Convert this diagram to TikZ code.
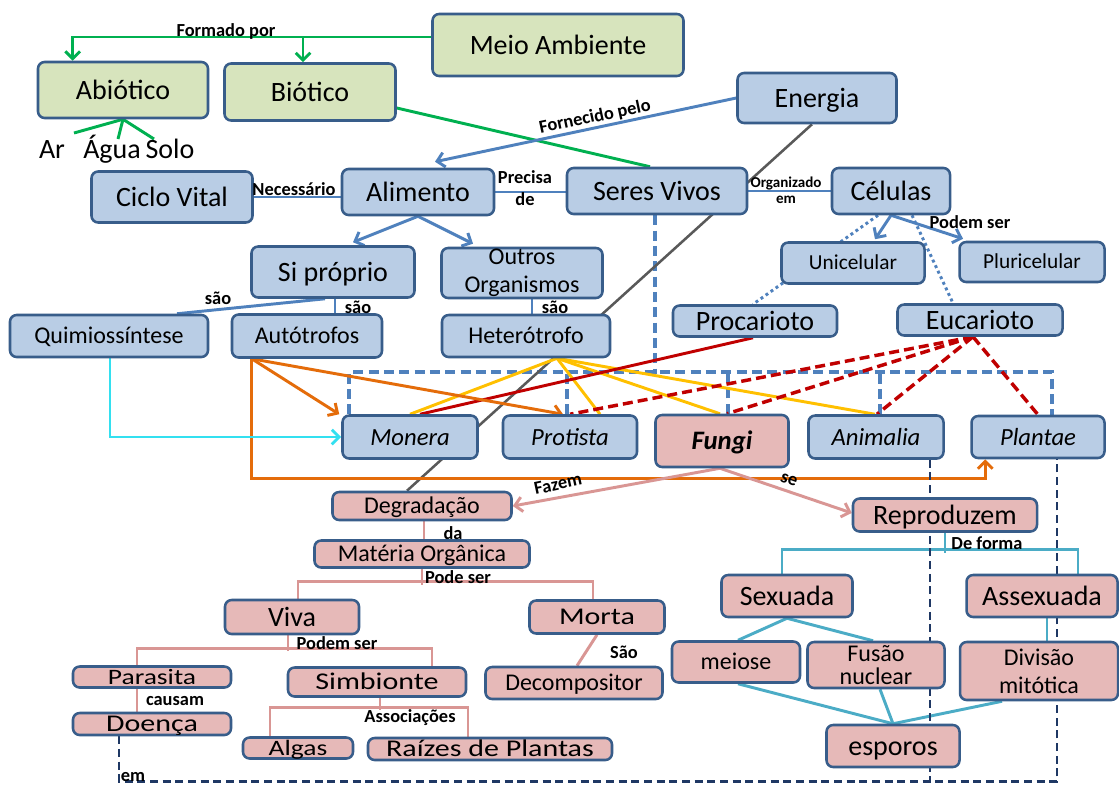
\documentclass[tikz,border=0pt]{standalone}
\usepackage{fontspec}
\setmainfont{Carlito}
\newfontfamily\wideF[FakeStretch=1.25]{Carlito}
\usetikzlibrary{arrows.meta,calc,backgrounds}
\definecolor{gfill}{HTML}{D7E4BD}
\definecolor{bfill}{HTML}{B9CDE5}
\definecolor{pfill}{HTML}{E6B9B8}
\definecolor{bord}{HTML}{385D8A}
\definecolor{cgreen}{HTML}{00B050}
\definecolor{cblue}{HTML}{4F81BD}
\definecolor{cred}{HTML}{C00000}
\definecolor{cgold}{HTML}{FFC000}
\definecolor{corange}{HTML}{E46C0A}
\definecolor{ccyan}{HTML}{33E0F0}
\definecolor{cpink}{HTML}{D99694}
\definecolor{cteal}{HTML}{4BACC6}
\definecolor{cgray}{HTML}{595959}
\definecolor{cnavy}{HTML}{1F3864}
\begin{document}
\begin{tikzpicture}[x=0.75pt,y=-0.75pt,
  box/.style={draw=bord, line width=1.9pt, rounded corners=5pt, inner sep=0pt, align=center},
  gbox/.style={box, fill=gfill},
  bbox/.style={box, fill=bfill},
  pbox/.style={box, fill=pfill},
  wh/.style 2 args={minimum width=#1*0.75pt, minimum height=#2*0.75pt},
  fA/.style={font=\fontsize{21}{23}\selectfont, text height=13.5pt, text depth=0pt},
  fB/.style={font=\fontsize{18}{21}\selectfont, text height=11.6pt, text depth=0pt},
  fC/.style={font=\fontsize{16}{18}\selectfont, text height=10.3pt, text depth=0pt},
  fI/.style={font=\itshape\fontsize{18.5}{20}\selectfont, text height=12pt, text depth=0pt},
  fF/.style={font=\bfseries\itshape\fontsize{20}{22}\selectfont, text height=13pt, text depth=0pt},
  fW/.style={font=\wideF\fontsize{18}{20}\selectfont, text height=11.6pt, text depth=0pt},
  fWs/.style={font=\wideF\fontsize{16.5}{18}\selectfont, text height=10.6pt, text depth=0pt},
  fM/.style={font=\fontsize{18}{21}\selectfont},
  fN/.style={font=\fontsize{18}{17.5}\selectfont},
  txt/.style={font=\fontsize{21}{23}\selectfont, inner sep=0pt},
  lbl/.style={font=\bfseries\fontsize{13.8}{15}\selectfont, inner sep=0pt},
  lbls/.style={font=\bfseries\fontsize{11.3}{12}\selectfont, inner sep=0pt},
  conn/.style={line width=2.2pt},
  arr/.style={-{Straight Barb[length=5.5pt,width=11pt]}},
  gline/.style={conn, draw=cgreen},
  bline/.style={conn, draw=cblue},
  bdot/.style={conn, draw=cblue, dash pattern=on 2.2pt off 2.4pt},
  bdash/.style={line width=3pt, draw=cblue, dash pattern=on 7.5pt off 4pt},
  yline/.style={conn, draw=cgold},
  rline/.style={conn, draw=cred},
  rdash/.style={line width=2.6pt, draw=cred, dash pattern=on 7.5pt off 3.8pt},
  oline/.style={conn, draw=corange},
  cline/.style={conn, draw=ccyan},
  grayline/.style={line width=1.9pt, draw=cgray},
  pline/.style={conn, draw=cpink},
  tline/.style={conn, draw=cteal},
  ndash/.style={line width=2.2pt, draw=cnavy, dash pattern=on 6pt off 3.5pt}
]
\useasboundingbox (0,0) rectangle (1119,789);

% ---------- nodes ----------
\node[gbox,wh={251}{62},fA] (meio) at (558,45) {Meio Ambiente};
\node[gbox,wh={170}{56},fA] (abio) at (123,90) {Abiótico};
\node[gbox,wh={171}{57},fA] (bio) at (310,92) {Biótico};
\node[txt, anchor=base] (ar) at (52,158) {Ar};
\node[txt, anchor=base] (agua) at (112,158) {Água};
\node[txt, anchor=base] (solo) at (170,158) {Solo};
\node[bbox,wh={159}{50},fA] (energia) at (817,98) {Energia};
\node[bbox,wh={161}{51},fA] (ciclo) at (172,197) {Ciclo Vital};
\node[bbox,wh={152}{46},fA] (alim) at (418,192) {Alimento};
\node[bbox,wh={180}{46},fA] (seres) at (657,191) {Seres Vivos};
\node[bbox,wh={118}{46},fA] (celulas) at (891,191) {Células};
\node[bbox,wh={163}{51},fA] (sip) at (333,272) {Si próprio};
\node[bbox,wh={161}{50},fM] (outros) at (522,273) {Outros\\Organismos};
\node[bbox,wh={198}{42},fB] (quimio) at (109,336) {Quimiossíntese};
\node[bbox,wh={150}{43},fB] (auto) at (307,336) {Autótrofos};
\node[bbox,wh={168}{42},fB] (het) at (526,336) {Heterótrofo};
\node[bbox,wh={143}{41},fC] (uni) at (853,263) {Unicelular};
\node[bbox,wh={145}{40},fC] (pluri) at (1032,262) {Pluricelular};
\node[bbox,wh={164}{31},fA] (proc) at (755,321) {Procarioto};
\node[bbox,wh={165}{31},fA] (euc) at (980,320) {Eucarioto};
\node[bbox,wh={135}{43},fI] (monera) at (410,437) {Monera};
\node[bbox,wh={134}{43},fI] (protista) at (570,437) {Protista};
\node[pbox,wh={133}{52},fF] (fungi) at (722,441) {Fungi};
\node[bbox,wh={135}{43},fI] (animalia) at (876,437) {Animalia};
\node[bbox,wh={133}{42},fI] (plantae) at (1038,437) {Plantae};
\node[pbox,wh={179}{28},fB] (degr) at (422,506) {Degradação};
\node[pbox,wh={215}{27},fB] (mat) at (422,554) {Matéria Orgânica};
\node[pbox,wh={134}{34},fA] (viva) at (292,617) {Viva};
\node[pbox,wh={135}{33},fW] (morta) at (597,617) {Morta};
\node[pbox,wh={158}{21},fWs] (parasita) at (152,677) {Parasita};
\node[pbox,wh={158}{22},fW] (doenca) at (152,724) {Doença};
\node[pbox,wh={178}{29},fW] (simb) at (377,682) {Simbionte};
\node[pbox,wh={177}{32},fB] (decomp) at (574,683) {Decompositor};
\node[pbox,wh={110}{21},fWs] (algas) at (298,748) {Algas};
\node[pbox,wh={244}{22},fW] (raizes) at (490,749) {Raízes de Plantas};
\node[pbox,wh={184}{33},fA] (repro) at (945,515) {Reproduzem};
\node[pbox,wh={131}{42},fA] (sexu) at (787,596) {Sexuada};
\node[pbox,wh={151}{42},fA] (assexu) at (1042,596) {Assexuada};
\node[pbox,wh={128}{41},fB] (meiose) at (736,662) {meiose};
\node[pbox,wh={137}{46},fN] (fusao) at (876,665) {Fusão\\nuclear};
\node[pbox,wh={158}{58},fM] (divisao) at (1039,671) {Divisão\\mitótica};
\node[pbox,wh={133}{42},fA] (esporos) at (893,746) {esporos};

\coordinate (arT) at (74,133);
\coordinate (aguaT) at (118,139);
\coordinate (soloT) at (154,139);

% ---------- connectors ----------
\begin{scope}[on background layer]
\fill[white] (0,0) rectangle (1119,789);
% green
\draw[gline,arr] ($(meio.west)+(0,-8)$) -| ($(abio.north west)+(36,0)$);
\draw[gline,arr] ($(bio.north)+(-7,-26)$) -- ($(bio.north)+(-7,0)$);
\draw[gline] (abio.south) -- (arT);
\draw[gline] (abio.south) -- (aguaT);
\draw[gline] (abio.south) -- (soloT);
\draw[gline] ($(bio.east)+(0,16)$) -- ($(seres.north)+(-7,0)$);
% blue
\draw[bline,arr] (energia.west) -- ($(alim.north)+(17,-6)$);
\draw[bline] (ciclo.east) -- (ciclo.east -| alim.west);
\draw[bline] (alim.east) -- (alim.east -| seres.west);
\draw[bline] (seres.east) -- (seres.east -| celulas.west);
\draw[bline,arr] (alim.south) -- ($(sip.north)+(20,-3)$);
\draw[bline,arr] (alim.south) -- ($(outros.north)+(-49,-3)$);
\draw[bline] ($(sip.south)+(-8,0)$) -- ($(quimio.north)+(68,0)$);
\draw[bline] ($(sip.south)+(2,0)$) -- ($(auto.north)+(28,0)$);
\draw[bline] ($(outros.south)+(10,0)$) -- ($(het.north)+(6,0)$);
\draw[bline,arr] (celulas.south) -- ($(uni.north)+(22,-2)$);
\draw[bline,arr] (celulas.south) -- ($(pluri.north)+(-69,-2)$);
\draw[bdot] ($(celulas.south)+(-13,0)$) -- ($(proc.north)+(-2,0)$);
\draw[bdot] ($(celulas.south)+(21,0)$) -- ($(euc.north)+(-27,0)$);
% dashed frame over the kingdoms
\draw[bdash] ($(monera.north west)+(8,0)$) -- ++(0,-42) -| ($(plantae.north)+(14,0)$);
\draw[bdash] ($(protista.north)+(-3,0)$) -- ++(0,-42);
\draw[bdash] ($(fungi.north)+(6,0)$) -- ++(0,-42);
\draw[bdash] ($(animalia.north)+(4,0)$) -- ++(0,-42);
\draw[bdash] ($(seres.south)+(-2,0)$) -- ++(0,159);
% gray
\draw[grayline] ($(degr.north)+(-15,0)$) -- ($(energia.south)+(-5,0)$);
% yellow
\coordinate (hy) at ($(het.south)+(31,0)$);
\draw[yline] (hy) -- (monera.north);
\draw[yline] (hy) -- ($(protista.north)+(30,0)$);
\draw[yline] (hy) -- ($(fungi.north)+(-2,0)$);
\draw[yline] (hy) -- ($(animalia.north)+(-1,0)$);
% red
\draw[rline] ($(proc.south)+(-2,0)$) -- ($(monera.north)+(10,0)$);
\coordinate (eu) at ($(euc.south)+(-7,0)$);
\draw[rdash] (eu) -- (protista.north);
\draw[rdash] (eu) -- ($(fungi.north)+(5,0)$);
\draw[rdash] (eu) -- ($(animalia.north)+(1,0)$);
\draw[rdash] (eu) -- (plantae.north);
% orange
\coordinate (ao) at ($(auto.south west)+(21,0)$);
\draw[oline,arr] (ao) -- ($(monera.north west)+(-2,0)$);
\draw[oline,arr] (ao) -- ($(protista.north)+(-7,0)$);
\draw[oline,arr] (ao) -- ++(0,120) -| ($(plantae.south west)+(15,0)$);
% cyan
\draw[cline,arr] ($(quimio.south)+(1,0)$) |- (monera.west);
% pink
\draw[pline,arr] ($(fungi.south)+(-2,0)$) -- (degr.east);
\draw[pline,arr] ($(fungi.south)+(-2,0)$) -- ($(repro.west)+(0,-2)$);
\draw[pline] ($(degr.south)+(2,0)$) -- ($(mat.north)+(2,0)$);
\draw[pline] (mat.south) -- ++(0,16);
\draw[pline] ($(viva.north)+(6,0)$) -- ++(0,-17) -| ($(morta.north)+(-4,0)$);
\draw[pline] ($(viva.south)+(-4,0)$) -- ++(0,16);
\draw[pline] ($(parasita.north)+(-15,0)$) -- ++(0,-16.5) -| ($(simb.north)+(55,0)$);
\draw[pline] ($(parasita.south)+(-15,0)$) -- ($(doenca.north)+(-15,0)$);
\draw[pline] ($(simb.south)+(3,0)$) -- ++(0,12.5);
\draw[pline] ($(algas.north)+(-28,0)$) -- ++(0,-28.5) -| ($(raizes.north)+(-22,0)$);
\draw[pline] (morta.south) -- ($(decomp.north)+(3,0)$);
% teal
\draw[tline] (repro.south) -- ++(0,20);
\draw[tline] ($(sexu.north)+(-5,0)$) -- ++(0,-24) -| ($(assexu.north)+(36,0)$);
\draw[tline] (sexu.south) -- ($(meiose.north)+(2,0)$);
\draw[tline] (sexu.south) -- ($(fusao.north)+(-3,0)$);
\draw[tline] ($(assexu.south)+(5,0)$) -- ($(divisao.north)+(8,0)$);
\draw[tline] ($(meiose.south)+(2,0)$) -- (esporos.north);
\draw[tline] ($(fusao.south)+(4,0)$) -- (esporos.north);
\draw[tline] ($(divisao.south)+(-37,0)$) -- (esporos.north);
% navy dashed
\draw[ndash] ($(doenca.south)+(-33,0)$) -- ++(0,45) -| ($(plantae.south)+(19,0)$);
\draw[ndash] ($(animalia.south)+(54,0)$) -- ++(0,321.5);
\end{scope}

% ---------- labels ----------
\node[lbl] (lform) at (226,31) {Formado por};
\node[lbl, rotate=12] (lforn) at (595,117) {Fornecido pelo};
\node[lbl] (lnec) at (294,189) {Necessário};
\node[lbl] (lprec) at (525,177) {Precisa};
\node[lbl] (lde) at (525,199) {de};
\node[lbls] (lorg) at (786,183) {Organizado};
\node[lbls] (lem1) at (786,200) {em};
\node[lbl] (lpod1) at (970,222) {Podem ser};
\node[lbl] (lsao1) at (218,298) {são};
\node[lbl] (lsao2) at (358,307) {são};
\node[lbl] (lsao3) at (555,307) {são};
\node[lbl, rotate=12] (lfaz) at (558,484) {Fazem};
\node[lbl, rotate=-20] (lse) at (789,480) {se};
\node[lbl] (lda) at (453,533) {da};
\node[lbl] (lpode) at (458,577) {Pode ser};
\node[lbl] (lpod2) at (337,643) {Podem ser};
\node[lbl] (lcau) at (175,701) {causam};
\node[lbl] (lass) at (410,718) {Associações};
\node[lbl] (lSao) at (624,652) {São};
\node[lbl] (lform2) at (987,543) {De forma};
\node[lbl] (lem2) at (133,777) {em};
\end{tikzpicture}
\end{document}
